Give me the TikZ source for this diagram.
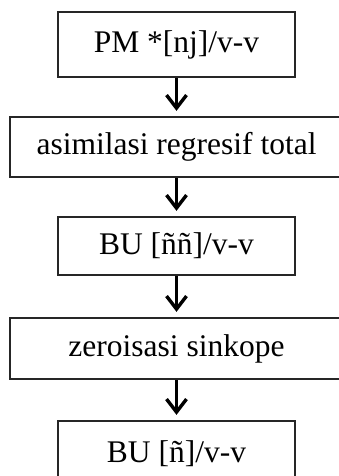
\documentclass[tikz,border=0pt]{standalone}
\usepackage{fontspec}
\setmainfont{Liberation Serif}
\usetikzlibrary{arrows.meta}
\begin{document}
\begin{tikzpicture}[x=1pt,y=-1pt,
  box/.style={draw=black!85, line width=2.3pt, inner sep=0pt, align=center,
    font=\fontsize{31.5}{36}\selectfont},
  small/.style={box, minimum width=237pt},
  wide/.style={box, minimum width=333pt},
  arr/.style={line width=3.4pt, shorten >=5pt,
    -{Straight Barb[length=13pt, width=20pt, line width=3.4pt]}}]
\clip (0,0) rectangle (339,476);
\fill[white] (0,0) rectangle (339,476);
\node[small, minimum height=65pt] (b1) at (176.5,44.5) {PM *[nj]/v-v};
\node[wide, minimum height=60pt] (b2) at (176.5,147) {asimilasi regresif total};
\node[small, minimum height=58pt] (b3) at (176.5,246) {BU [ññ]/v-v};
\node[wide, minimum height=61pt] (b4) at (176.5,348.5) {zeroisasi sinkope};
\node[small, minimum height=65pt] (b5) at (176.5,453.5) {BU [ñ]/v-v};
\draw[arr] (b1.south) -- (b2.north);
\draw[arr] (b2.south) -- (b3.north);
\draw[arr] (b3.south) -- (b4.north);
\draw[arr] (b4.south) -- (b5.north);
\end{tikzpicture}
\end{document}
